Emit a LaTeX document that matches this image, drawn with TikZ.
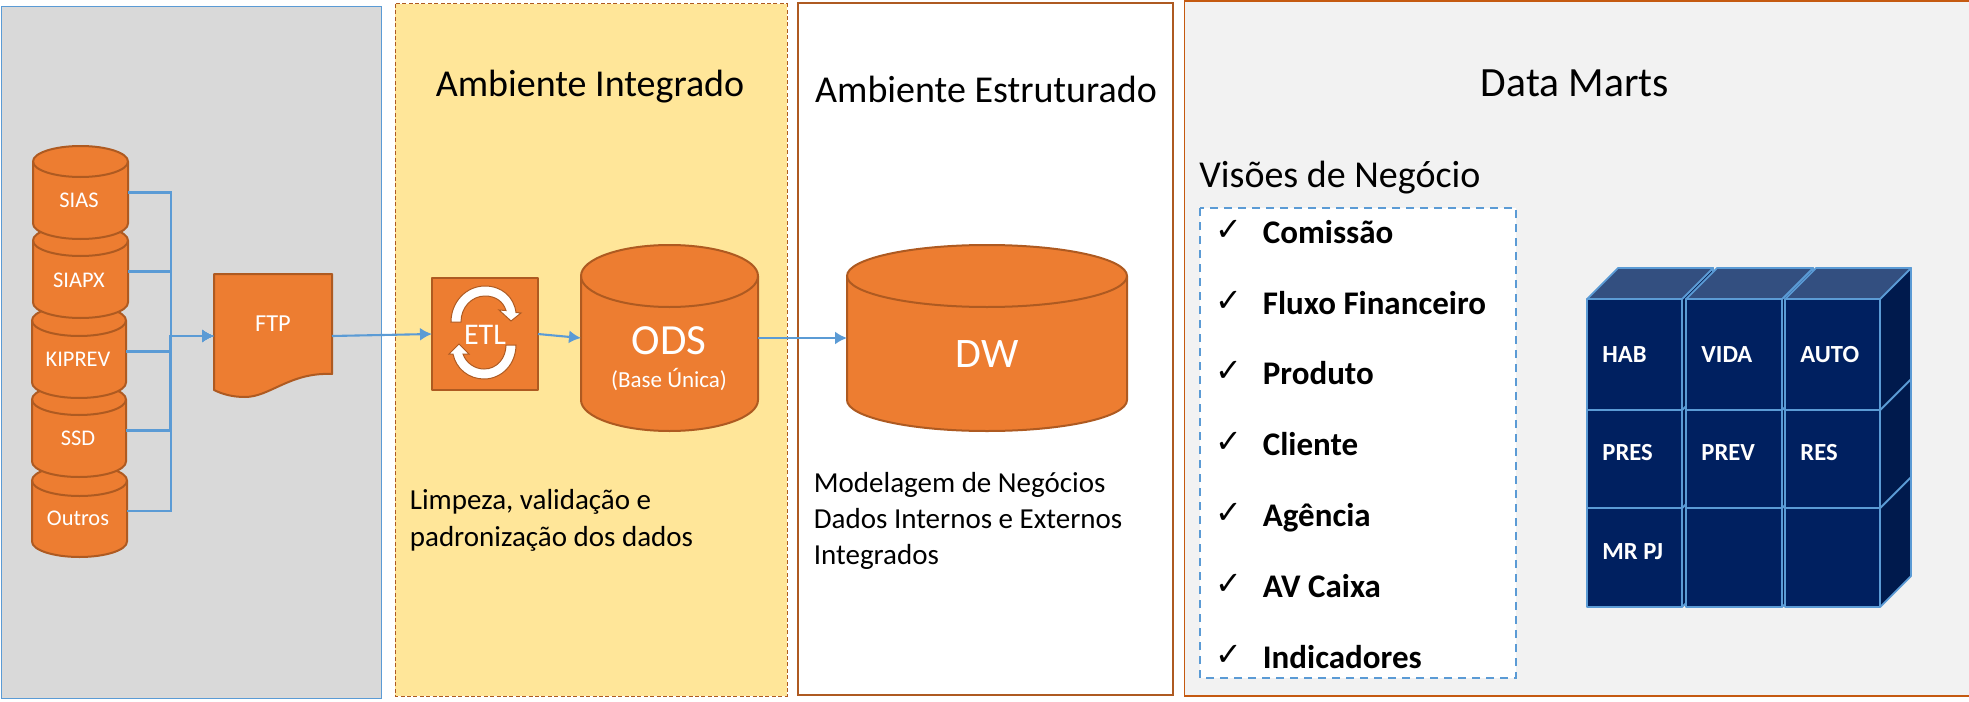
\documentclass[tikz,border=0pt]{standalone}
\usepackage{fontspec}
\setmainfont{Carlito}
\newfontfamily\checkfont{DejaVu Sans}
\usetikzlibrary{arrows.meta}
\definecolor{orangefill}{HTML}{ED7D31}
\definecolor{orangeline}{HTML}{AE5A21}
\definecolor{panelline}{HTML}{C55A11}
\definecolor{bluelink}{HTML}{5B9BD5}
\definecolor{greypanel}{HTML}{D9D9D9}
\definecolor{yellowpanel}{HTML}{FFE699}
\definecolor{lightpanel}{HTML}{F2F2F2}
\definecolor{navyfront}{HTML}{002060}
\definecolor{navyside}{HTML}{001A4D}
\definecolor{navytop}{HTML}{334F80}
\newcommand{\fpx}[2]{\fontsize{#1}{#2}\selectfont}
\tikzset{
  x=0.5pt,y=-0.5pt,
  orangeshape/.style={draw=orangeline,fill=orangefill,line width=1pt,line join=round},
  anchorbox/.style={inner sep=0pt,outer sep=0pt,rectangle},
  whitelabel/.style={text=white,inner sep=0pt,font=\fpx{11.2}{14}},
  conn/.style={draw=bluelink,line width=1.05pt,-{Latex[length=6pt,width=6.5pt]}},
  title/.style={text=black,inner sep=0pt,font=\fpx{19}{23}},
  note/.style={text=black,inner sep=0pt,align=left,anchor=west,font=\fpx{14.5}{17.8}},
  item/.style={text=black,inner sep=0pt,anchor=base west,font=\fpx{16.5}{18}\bfseries},
  tick/.style={text=black,inner sep=0pt,font=\checkfont\fpx{16}{18}},
  cubeline/.style={draw=bluelink,line width=0.9pt,line join=round},
  cubelabel/.style={text=white,inner sep=0pt,anchor=west,font=\fpx{12.3}{14}\bfseries},
}
% name, x0, x1, ytop, ybottom, ry
\newcommand{\dbcyl}[6]{%
  \pgfmathsetmacro{\rxv}{(#3-#2)/4}%
  \pgfmathsetmacro{\ryv}{#6/2}%
  \pgfmathsetmacro{\xcv}{(#2+#3)/2}%
  \pgfmathsetmacro{\ycv}{(#4+#5)/2}%
  \pgfmathsetmacro{\wv}{(#3-#2)/2}%
  \pgfmathsetmacro{\hv}{(#5-#4)/2}%
  \draw[orangeshape] (#2,#4+#6) -- (#2,#5-#6)
     arc[start angle=180,end angle=360,x radius=\rxv pt,y radius=\ryv pt]
     -- (#3,#4+#6)
     arc[start angle=0,end angle=180,x radius=\rxv pt,y radius=\ryv pt] -- cycle;
  \draw[orangeshape,fill=none] (#2,#4+#6)
     arc[start angle=180,end angle=360,x radius=\rxv pt,y radius=\ryv pt];
  \node[anchorbox,minimum width=\wv pt,minimum height=\hv pt] (#1) at (\xcv,\ycv) {};
}
% x0, x1, y0, y1, label, label y
\newcommand{\dmcube}[6]{%
  \draw[cubeline,fill=navyside] (#2,#3) -- ++(31,-31) -- (#2+31,#4-31) -- (#2,#4) -- cycle;
  \draw[cubeline,fill=navytop] (#1,#3) -- ++(31,-31) -- (#2+31,#3-31) -- (#2,#3) -- cycle;
  \draw[cubeline,fill=navyfront] (#1,#3) rectangle (#2,#4);
  \node[cubelabel] (cube#5) at (#1+15,#6) {#5};
}
\begin{document}
\begin{tikzpicture}
\useasboundingbox (0,0) rectangle (1969,701);
% panels
\fill[white] (0,0) rectangle (1969,701);
\draw[fill=greypanel,draw=bluelink,line width=0.5pt] (1,7) rectangle (381,698);
\draw[fill=yellowpanel,draw=orangeline,line width=0.5pt,dash pattern=on 2pt off 1.2pt] (395,4) rectangle (787,696);
\draw[fill=white,draw=orangeline,line width=1pt] (798,3) rectangle (1173,695);
\draw[fill=lightpanel,draw=panelline,line width=0.7pt] (1184.5,1) rectangle (1975,696);
% titles
\node[title] (tint) at (590,86.5) {Ambiente Integrado};
\node[title] (test) at (986,89) {Ambiente Estruturado};
\node[title,font=\fpx{20.8}{24}] (tdm) at (1575,83) {Data Marts};
\node[title,anchor=west] (tvis) at (1199,178) {Visões de Negócio};
% sources
\dbcyl{outros}{32}{127}{465}{557}{15.5}
\dbcyl{ssd}{32}{126}{384}{477}{15.5}
\dbcyl{kiprev}{32}{126}{305}{398}{15.5}
\dbcyl{siapx}{33}{128}{225}{318}{15.5}
\dbcyl{sias}{33}{128}{146}{239}{15.5}
\node[whitelabel] (lsias) at (79,200) {SIAS};
\node[whitelabel] (lsiapx) at (79,280) {SIAPX};
\node[whitelabel] (lkiprev) at (78,359) {KIPREV};
\node[whitelabel] (lssd) at (78,438) {SSD};
\node[whitelabel] (loutros) at (78,518) {Outros};
% FTP
\draw[orangeshape] (214,274) -- (332,274) -- (332,374)
   .. controls (290,372) and (270,397) .. (245,397)
   .. controls (232,397) and (222,394) .. (214,390) -- cycle;
\node[anchorbox,minimum width=59pt,minimum height=62pt] (ftp) at (273,336) {};
\node[whitelabel,font=\fpx{12.2}{15}] (lftp) at (273,324) {FTP};
% ETL
\node[orangeshape,anchorbox,minimum width=53pt,minimum height=56pt] (etl) at (485,334) {};
\draw[fill=white,draw=orangeline,line width=0.5pt,line join=miter]
  (451,322) .. controls (451,302) and (466,286) .. (485,286)
  .. controls (502,286) and (514,297) .. (516,312.5) -- (521,313) -- (511,321) -- (499,310) -- (506,310.5)
  .. controls (503,301) and (495,296) .. (485,296)
  .. controls (472,296) and (461,307) .. (461,322) -- cycle;
\draw[fill=white,draw=orangeline,line width=0.5pt,line join=miter]
  (516,345) .. controls (516,364) and (502,379) .. (484,379)
  .. controls (469,379) and (456,369) .. (453,354) -- (449,354) -- (459,344) -- (469,354) -- (463,354)
  .. controls (466,363) and (475,369) .. (484,369)
  .. controls (497,369) and (506,358) .. (506,345) -- cycle;
\node[whitelabel,font=\fpx{15}{18}] (letl) at (485,335) {ETL};
% ODS, DW
\dbcyl{ods}{581}{758}{245}{431}{31}
\node[whitelabel,font=\fpx{21.5}{26}] (lods) at (669,341) {ODS};
\node[whitelabel,font=\fpx{11.5}{14}] (lbase) at (669,379) {(Base Única)};
\dbcyl{dw}{847}{1127}{245}{431}{31}
\node[whitelabel,font=\fpx{21}{26}] (ldw) at (987,354) {DW};
% connectors
\coordinate (busa) at (171,336);
\coordinate (busb) at (170,336);
\draw[conn] (sias.east) -| (busa) -- (ftp.west);
\draw[conn] (siapx.east) -| (busa) -- (ftp.west);
\draw[conn] (kiprev.east) -| (busb) -- (ftp.west);
\draw[conn] (ssd.east) -| (busb) -- (ftp.west);
\draw[conn] (outros.east) -| (busa) -- (ftp.west);
\draw[conn] (ftp.east) -- (etl.west);
\draw[conn] (etl.east) -- (ods.west);
\draw[conn] (ods.east) -- (dw.west);
% notes
\node[note,font=\fpx{14.5}{18.2}] (nint) at (409.5,520.5) {Limpeza, validação e\\padronização dos dados};
\node[note] (nest) at (813.5,521) {Modelagem de Negócios\\Dados Internos e Externos\\Integrados};
% views box
\draw[fill=white,draw=bluelink,line width=0.75pt,dash pattern=on 4pt off 3pt] (1200,208) rectangle (1516,678);
\foreach \yy/\tt/\nn in {243/Comissão/a,314/Fluxo Financeiro/b,384/Produto/c,455/Cliente/d,526/Agência/e,597/AV Caixa/f,668/Indicadores/g}{
  \node[tick] (tick\nn) at (1229,\yy-13) {✓};
  \node[item] (item\nn) at (1262.5,\yy) {\tt};
}
% cube
\dmcube{1587}{1682}{508}{607}{MR PJ}{552}
\dmcube{1587}{1682}{410}{508}{PRES}{453}
\dmcube{1587}{1682}{299}{410}{HAB}{355}
\dmcube{1686}{1782}{508}{607}{}{552}
\dmcube{1686}{1782}{410}{508}{PREV}{453}
\dmcube{1686}{1782}{299}{410}{VIDA}{355}
\dmcube{1785}{1880}{508}{607}{}{552}
\dmcube{1785}{1880}{410}{508}{RES}{453}
\dmcube{1785}{1880}{299}{410}{AUTO}{355}
\end{tikzpicture}
\end{document}
